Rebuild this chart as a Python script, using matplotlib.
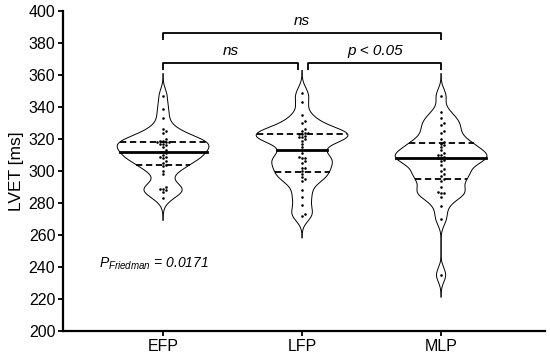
import numpy as np
import matplotlib
matplotlib.use("Agg")
import matplotlib.pyplot as plt

plt.rcParams['font.family'] = ['Liberation Sans', 'DejaVu Sans']
plt.rcParams['mathtext.fontset'] = 'custom'
plt.rcParams['mathtext.it'] = 'Liberation Sans:italic'
plt.rcParams['mathtext.rm'] = 'Liberation Sans'

# LVET per condition (ms)
groups = ["EFP", "LFP", "MLP"]
efp = [283, 287, 288, 289, 289, 290, 298, 300, 303, 304, 305, 306, 308, 309, 309,
       310, 311, 312, 312, 313, 315, 316, 317, 317, 318, 318, 318, 319, 319, 320,
       324, 325, 326, 333, 339, 347]
lfp = [272, 273, 279, 284, 288, 294, 295, 296, 298, 300, 302, 302, 305, 306, 308,
       308, 309, 311, 315, 317, 319, 320, 321, 321, 322, 323, 323, 324, 324, 325,
       326, 330, 331, 335, 343, 349]
mlp = [235, 270, 278, 284, 286, 286, 287, 290, 294, 295, 297, 298, 300, 301, 304,
       306, 307, 308, 308, 309, 310, 310, 311, 313, 315, 316, 317, 318, 320, 324,
       325, 329, 330, 333, 337, 347]
data = [efp, lfp, mlp]

# pairwise comparisons: (x start, x end, y of bracket, label)
comparisons = [(0.0, 0.97, 367.5, "ns"), (1.045, 2.0, 367.5, "p < 0.05"), (0.0, 2.0, 386, "ns")]
friedman_text = r"$P_{Friedman}$ = 0.0171"

bw = 4.3
half_width = 0.33


def kde(vals, grid):
    vals = np.asarray(vals, float)
    return np.exp(-0.5 * ((grid[:, None] - vals[None, :]) / bw) ** 2).sum(axis=1)


def swarm(vals, xd=0.021, yd=2.0):
    # simple beeswarm so dots with close values sit side by side
    order = np.argsort(vals)
    placed = []
    offs = np.zeros(len(vals))
    for idx in order:
        v = vals[idx]
        k = 0
        while True:
            cand = 0.0 if k == 0 else ((k + 1) // 2) * xd * (1 if k % 2 else -1)
            if all(abs(cand - ox) >= xd * 0.95 or abs(v - oy) >= yd for ox, oy in placed):
                break
            k += 1
        placed.append((cand, v))
        offs[idx] = cand
    return offs


fig = plt.figure(figsize=(5.5, 3.6), dpi=100)
ax = fig.add_axes([0.1145, 0.0806, 0.877, 0.889])

for pos, vals in enumerate(data):
    vals = np.asarray(vals, float)
    grid = np.linspace(vals.min() - 3.2 * bw, vals.max() + 3.2 * bw, 600)
    w = kde(vals, grid)
    w = w * half_width / w.max()
    ax.fill_betweenx(grid, pos - w, pos + w, facecolor='white', edgecolor='none', zorder=1)
    ax.plot(pos - w, grid, color='black', lw=0.7, zorder=2)
    ax.plot(pos + w, grid, color='black', lw=0.7, zorder=2)

    q1, med, q3 = np.percentile(vals, [25, 50, 75])
    for q, ls, lw in [(q1, (0, (3.5, 2)), 1.3), (med, '-', 2.0), (q3, (0, (3.5, 2)), 1.3)]:
        hw = np.interp(q, grid, w)
        ax.plot([pos - hw, pos + hw], [q, q], color='black', ls=ls, lw=lw, zorder=3)

    offs = swarm(vals)
    ax.scatter(pos + offs, vals, s=3.5, color='black', linewidths=0, zorder=4)

# significance brackets
for x0, x1, y, label in comparisons:
    ax.plot([x0, x0, x1, x1], [y - 4.3, y, y, y - 4.3], color='black', lw=1.3,
            solid_capstyle='butt', clip_on=False)
    ax.text((x0 + x1) / 2, y + 3.2, label, ha='center', va='bottom',
            fontsize=11, style='italic')

ax.text(-0.46, 242, friedman_text, ha='left', va='center', fontsize=10, style='italic')

ax.set_xlim(-0.72, 2.75)
ax.set_ylim(200, 400)
ax.set_yticks(np.arange(200, 401, 20))
ax.set_xticks(range(len(groups)))
ax.set_xticklabels(groups)
ax.set_ylabel("LVET [ms]", fontsize=12.5, labelpad=3)
ax.tick_params(axis='both', labelsize=11.5, width=1.3, length=3.5, color='black', pad=2)
for s in ['top', 'right']:
    ax.spines[s].set_visible(False)
for s in ['left', 'bottom']:
    ax.spines[s].set_linewidth(1.6)

fig.savefig("out.png", dpi=100)
